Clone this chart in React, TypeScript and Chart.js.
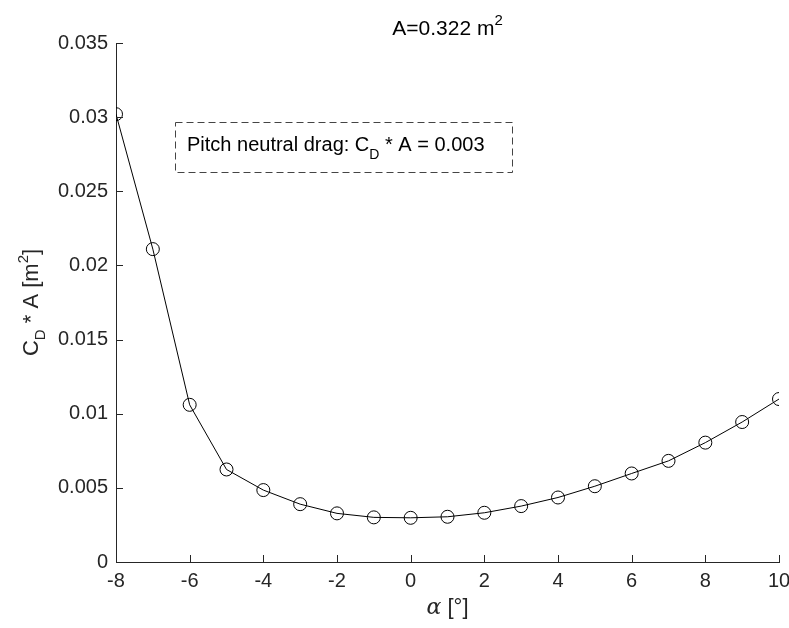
import React, { useEffect, useRef } from "react";
import { Chart, registerables } from "chart.js";

Chart.register(...registerables);

const alphaDeg = [-8, -7, -6, -5, -4, -3, -2, -1, 0, 1, 2, 3, 4, 5, 6, 7, 8, 9, 10];
const cdA = [
  0.0302, 0.0211, 0.0106, 0.00624, 0.00485, 0.0039, 0.00328, 0.00301, 0.00298,
  0.00305, 0.00332, 0.00377, 0.00435, 0.00511, 0.00597, 0.00682, 0.00805, 0.00944, 0.01099,
];
const xTicks = [-8, -6, -4, -2, 0, 2, 4, 6, 8, 10];
const yTicks = [0, 0.005, 0.01, 0.015, 0.02, 0.025, 0.03, 0.035];
const yTickLabels = ["0", "0.005", "0.01", "0.015", "0.02", "0.025", "0.03", "0.035"];

const titleText = "A=0.322 m";
const boxText1 = "Pitch neutral drag: C";
const boxText2 = " * A = 0.003";

const SANS = '"Liberation Sans", Arial, Helvetica, sans-serif';
const AX = "#262626";

type Part = { t: string; font: string; dy?: number };

function drawRich(ctx: CanvasRenderingContext2D, parts: Part[], x: number, y: number, align: "left" | "center") {
  let total = 0;
  for (const p of parts) {
    ctx.font = p.font;
    total += ctx.measureText(p.t).width;
  }
  let cx = align === "center" ? x - total / 2 : x;
  ctx.textBaseline = "alphabetic";
  ctx.textAlign = "left";
  for (const p of parts) {
    ctx.font = p.font;
    ctx.fillText(p.t, cx, y + (p.dy || 0));
    cx += ctx.measureText(p.t).width;
  }
}

const decorPlugin = {
  id: "decor",
  afterDraw(chart: any) {
    const ctx: CanvasRenderingContext2D = chart.ctx;
    const area = chart.chartArea;
    const xs = chart.scales.x;
    const ys = chart.scales.y;
    ctx.save();
    // inward ticks
    ctx.strokeStyle = AX;
    ctx.lineWidth = 1;
    ctx.beginPath();
    for (const v of xTicks) {
      const px = Math.round(xs.getPixelForValue(v)) + 0.5;
      ctx.moveTo(px, area.bottom);
      ctx.lineTo(px, area.bottom - 7);
    }
    for (const v of yTicks) {
      const py = Math.round(ys.getPixelForValue(v)) + 0.5;
      ctx.moveTo(area.left, py);
      ctx.lineTo(area.left + 7, py);
    }
    ctx.stroke();

    // title
    ctx.fillStyle = "#000";
    const cxm = (area.left + area.right) / 2;
    drawRich(
      ctx,
      [
        { t: titleText, font: `21px ${SANS}` },
        { t: "2", font: `15px ${SANS}`, dy: -10 },
      ],
      cxm,
      35,
      "center"
    );

    // annotation box
    ctx.setLineDash([7, 4]);
    ctx.strokeStyle = "#444";
    ctx.strokeRect(175.5, 122.5, 337, 50);
    ctx.setLineDash([]);
    ctx.fillStyle = "#000";
    drawRich(
      ctx,
      [
        { t: boxText1, font: `20px ${SANS}` },
        { t: "D", font: `14px ${SANS}`, dy: 8 },
        { t: boxText2, font: `20px ${SANS}` },
      ],
      187,
      151,
      "left"
    );

    // x label
    ctx.fillStyle = AX;
    drawRich(
      ctx,
      [
        { t: "\u03B1", font: `italic 22px "DejaVu Serif", "Liberation Serif", serif` },
        { t: " [\u00B0]", font: `22px ${SANS}` },
      ],
      cxm,
      614,
      "center"
    );

    // y label
    ctx.save();
    ctx.translate(38, (area.top + area.bottom) / 2);
    ctx.rotate(-Math.PI / 2);
    drawRich(
      ctx,
      [
        { t: "C", font: `22px ${SANS}` },
        { t: "D", font: `15px ${SANS}`, dy: 7 },
        { t: " * A [m", font: `22px ${SANS}` },
        { t: "2", font: `15px ${SANS}`, dy: -10 },
        { t: "]", font: `22px ${SANS}` },
      ],
      0,
      0,
      "center"
    );
    ctx.restore();
    ctx.restore();
  },
};

export default function App() {
  const ref = useRef<HTMLCanvasElement | null>(null);
  useEffect(() => {
    if (!ref.current) return;
    const chart = new Chart(ref.current, {
      type: "line",
      data: {
        datasets: [
          {
            data: alphaDeg.map((a, i) => ({ x: a, y: cdA[i] })),
            borderColor: "#000",
            borderWidth: 1,
            pointRadius: 6.5,
            pointBorderWidth: 1,
            pointBorderColor: "#000",
            pointBackgroundColor: "rgba(0,0,0,0)",
            pointStyle: "circle",
            tension: 0,
            fill: false,
          },
        ],
      },
      options: {
        animation: false,
        responsive: false,
        layout: { padding: { top: 43, right: 10, left: 0, bottom: 0 } },
        plugins: { legend: { display: false }, tooltip: { enabled: false }, title: { display: false } },
        scales: {
          x: {
            type: "linear",
            min: -8,
            max: 10,
            afterBuildTicks: (s: any) => {
              s.ticks = xTicks.map((v) => ({ value: v }));
            },
            afterFit: (s: any) => {
              s.height = 66;
              s.paddingLeft = 0;
              s.paddingRight = 0;
            },
            grid: { display: true, drawOnChartArea: false, drawTicks: false },
            border: { display: true, color: AX, width: 1 },
            ticks: {
              color: AX,
              font: { family: SANS, size: 20 },
              padding: 7,
              maxRotation: 0,
              autoSkip: false,
              callback: (v: any) => String(v),
            },
          },
          y: {
            type: "linear",
            min: 0,
            max: 0.035,
            afterBuildTicks: (s: any) => {
              s.ticks = yTicks.map((v) => ({ value: v }));
            },
            afterFit: (s: any) => {
              s.width = 116;
              s.paddingTop = 0;
              s.paddingBottom = 0;
            },
            grid: { display: true, drawOnChartArea: false, drawTicks: false },
            border: { display: true, color: AX, width: 1 },
            ticks: {
              color: AX,
              font: { family: SANS, size: 20 },
              padding: 8,
              autoSkip: false,
              callback: (v: any) => {
                const i = yTicks.findIndex((t) => Math.abs(t - v) < 1e-9);
                return i >= 0 ? yTickLabels[i] : "";
              },
            },
          },
        },
      },
      plugins: [decorPlugin],
    });
    return () => chart.destroy();
  }, []);
  return (
    <div style={{ position: "fixed", left: 0, top: 0, width: 789, height: 628, background: "#fff" }}>
      <canvas ref={ref} width={789} height={628} style={{ display: "block" }} />
    </div>
  );
}
